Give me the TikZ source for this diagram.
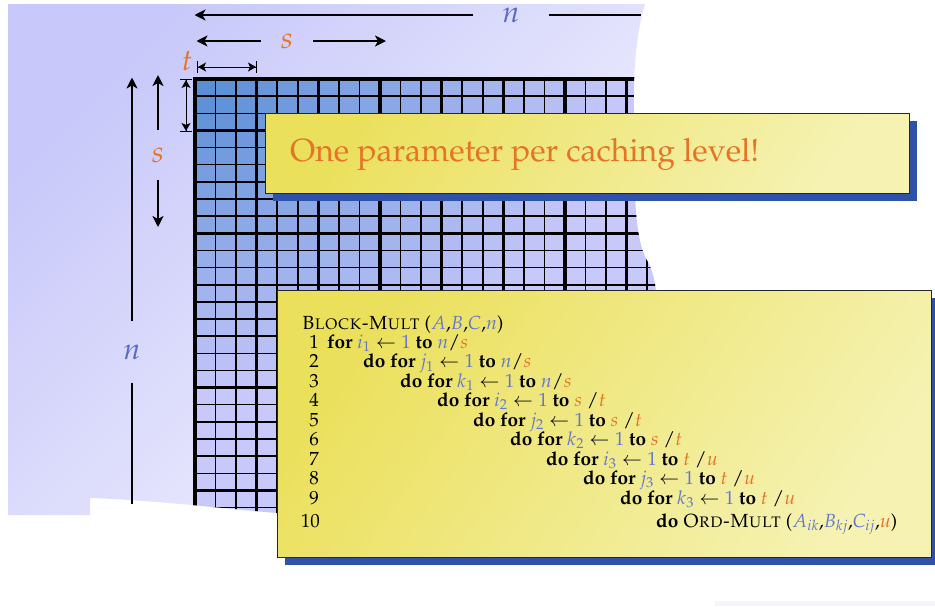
\documentclass[tikz,border=0pt]{standalone}
\usepackage[T1]{fontenc}
\usepackage{mathpazo}
\usetikzlibrary{arrows.meta,shadows}
\definecolor{bgA}{RGB}{200,200,250}
\definecolor{bgB}{RGB}{248,248,255}
\definecolor{gridA}{RGB}{86,140,212}
\definecolor{gridB}{RGB}{200,200,250}
\definecolor{ylA}{RGB}{235,224,92}
\definecolor{ylB}{RGB}{245,242,178}
\definecolor{shadowblue}{RGB}{46,82,170}
\definecolor{vblue}{RGB}{98,118,208}
\definecolor{vorange}{RGB}{230,115,38}
\definecolor{lblue}{RGB}{88,104,200}
\definecolor{stripcol}{RGB}{244,244,255}
\newcommand{\vb}[1]{\textcolor{vblue}{#1}}
\newcommand{\vo}[1]{\textcolor{vorange}{#1}}
\begin{document}
\begin{tikzpicture}[x=1pt,y=-1pt,
  dimarrow/.style={line width=2pt,-{Stealth[length=11pt,width=11pt,inset=3pt]}},
  dimline/.style={line width=2pt},
  tarrow/.style={line width=1pt,{Bar[width=12pt]Stealth[length=8pt,width=9pt,inset=2pt]}-{Stealth[length=8pt,width=9pt,inset=2pt]Bar[width=12pt]}},
  lbl/.style={inner sep=0pt,font=\fontsize{30}{30}\selectfont},
  ybox/.style={draw=black!85,line width=0.8pt,top color=ylA,bottom color=ylB,shading angle=55,
    general shadow={fill=shadowblue,shadow xshift=8pt,shadow yshift=-8pt},inner sep=0pt},
  code/.style={anchor=base west,inner sep=0pt,font=\fontsize{19}{19}\selectfont},
  num/.style={anchor=base east,inner sep=0pt,font=\fontsize{19}{19}\selectfont},
]
\useasboundingbox (0,0) rectangle (935,606);

% torn-paper background with grid
\begin{scope}
  \clip (8,4) -- (645,4) .. controls (637,30) and (633,70) .. (634,110) -- (635,195)
     .. controls (636,225) and (640,250) .. (648,262) .. controls (652,270) and (655,280) .. (656,292)
     -- (656,520) -- (277,513) .. controls (220,508) and (150,500) .. (90,498)
     -- (90,515) -- (8,515) -- cycle;
  \shade[top color=bgA,bottom color=bgB,shading angle=45] (0,0) rectangle (700,540);
  \foreach \i in {0,...,22}{
    \foreach \j in {0,...,25}{
      \pgfmathsetmacro\p{min(100,100*sqrt((((\i+0.5)*20.555)/430)^2+(((\j+0.5)*17.144)/320)^2))}
      \fill[fill=gridB!\p!gridA] ({195+20.555*\i},{79+17.144*\j}) rectangle ++(20.6,17.2);
    }
  }
  \foreach \k in {0,...,23}{
    \pgfmathsetmacro\lw{ifthenelse(mod(\k,9)==0,3.6,ifthenelse(mod(\k,3)==0,2.4,1.5))}
    \draw[line width=\lw pt] ({195+20.555*\k},77) -- ({195+20.555*\k},540);
  }
  \foreach \k in {0,...,27}{
    \pgfmathsetmacro\lw{ifthenelse(mod(\k,9)==0,3.6,ifthenelse(mod(\k,3)==0,2.4,1.5))}
    \draw[line width=\lw pt] (193,{79+17.144*\k}) -- (700,{79+17.144*\k});
  }
\end{scope}

\fill[stripcol] (715,601) rectangle (935,606);

% dimension labels and arrows
\node[lbl,text=lblue,minimum width=75pt] (nTop) at (511,15) {$n$};
\coordinate (nTopL) at (194.5,15);
\coordinate (nTopR) at (641,15);
\draw[dimarrow] (nTop.west) -- (nTopL);
\draw[dimline] (nTop.east) -- (nTopR);

\node[lbl,text=vorange,minimum width=52pt] (sTop) at (287,41) {$s$};
\coordinate (sTopL) at (196.5,41);
\coordinate (sTopR) at (386,41);
\draw[dimarrow] (sTop.west) -- (sTopL);
\draw[dimarrow] (sTop.east) -- (sTopR);

\node[lbl,text=vorange] (tLab) at (187,61) {$t$};
\coordinate (tA) at (197,67);
\coordinate (tB) at (257,67);
\draw[tarrow] (tA) -- (tB);
\coordinate (tC) at (186,79);
\coordinate (tD) at (186,132);
\draw[tarrow] (tC) -- (tD);

\node[lbl,text=vorange,minimum height=50pt] (sLeft) at (158,155) {$s$};
\coordinate (sUp) at (158,75);
\coordinate (sDown) at (158,227);
\draw[dimarrow] (sLeft.north) -- (sUp);
\draw[dimarrow] (sLeft.south) -- (sDown);

\node[lbl,text=lblue,minimum height=61pt] (nLeft) at (132,352) {$n$};
\coordinate (nUp) at (132,77.5);
\coordinate (nDown) at (132,504);
\draw[dimarrow] (nLeft.north) -- (nUp);
\draw[dimline] (nLeft.south) -- (nDown);

% callout box
\node[ybox,minimum width=644pt,minimum height=80pt] (box1) at (587,153) {};
\node[anchor=base west,inner sep=0pt,text=vorange,font=\fontsize{32}{32}\selectfont] (title) at (290,161) {One parameter per caching level!};

% algorithm box
\node[ybox,minimum width=654pt,minimum height=267pt] (box2) at (604,423.5) {};
\node[code] (hdr) at (302,329) {\textsc{Block-Mult} ($\vb{A}$,$\vb{B}$,$\vb{C}$,$\vb{n}$)};
\node[num] (n1) at (319,348) {1};
\node[code] (l1) at (327,348) {\textbf{for} $\vb{i_1}\leftarrow\vb{1}$ \textbf{to} $\vb{n}/\vo{s}$};
\node[num] (n2) at (319,367.5) {2};
\node[code] (l2) at (363,367.5) {\textbf{do for} $\vb{j_1}\leftarrow\vb{1}$ \textbf{to} $\vb{n}/\vo{s}$};
\node[num] (n3) at (319,387) {3};
\node[code] (l3) at (400,387) {\textbf{do for} $\vb{k_1}\leftarrow\vb{1}$ \textbf{to} $\vb{n}/\vo{s}$};
\node[num] (n4) at (319,406.5) {4};
\node[code] (l4) at (437,406.5) {\textbf{do for} $\vb{i_2}\leftarrow\vb{1}$ \textbf{to} $\vo{s}$ $/\vo{t}$};
\node[num] (n5) at (319,426) {5};
\node[code] (l5) at (473,426) {\textbf{do for} $\vb{j_2}\leftarrow\vb{1}$ \textbf{to} $\vo{s}$ $/\vo{t}$};
\node[num] (n6) at (319,445.5) {6};
\node[code] (l6) at (510,445.5) {\textbf{do for} $\vb{k_2}\leftarrow\vb{1}$ \textbf{to} $\vo{s}$ $/\vo{t}$};
\node[num] (n7) at (319,465) {7};
\node[code] (l7) at (546,465) {\textbf{do for} $\vb{i_3}\leftarrow\vb{1}$ \textbf{to} $\vo{t}$ $/\vo{u}$};
\node[num] (n8) at (319,484.5) {8};
\node[code] (l8) at (583,484.5) {\textbf{do for} $\vb{j_3}\leftarrow\vb{1}$ \textbf{to} $\vo{t}$ $/\vo{u}$};
\node[num] (n9) at (319,504) {9};
\node[code] (l9) at (620,504) {\textbf{do for} $\vb{k_3}\leftarrow\vb{1}$ \textbf{to} $\vo{t}$ $/\vo{u}$};
\node[num] (n10) at (320,527) {10};
\node[code] (l10) at (656,527) {\textbf{do} \textsc{Ord-Mult} ($\vb{A_{ik}}$,$\vb{B_{kj}}$,$\vb{C_{ij}}$,$\vo{u}$)};
\end{tikzpicture}
\end{document}
